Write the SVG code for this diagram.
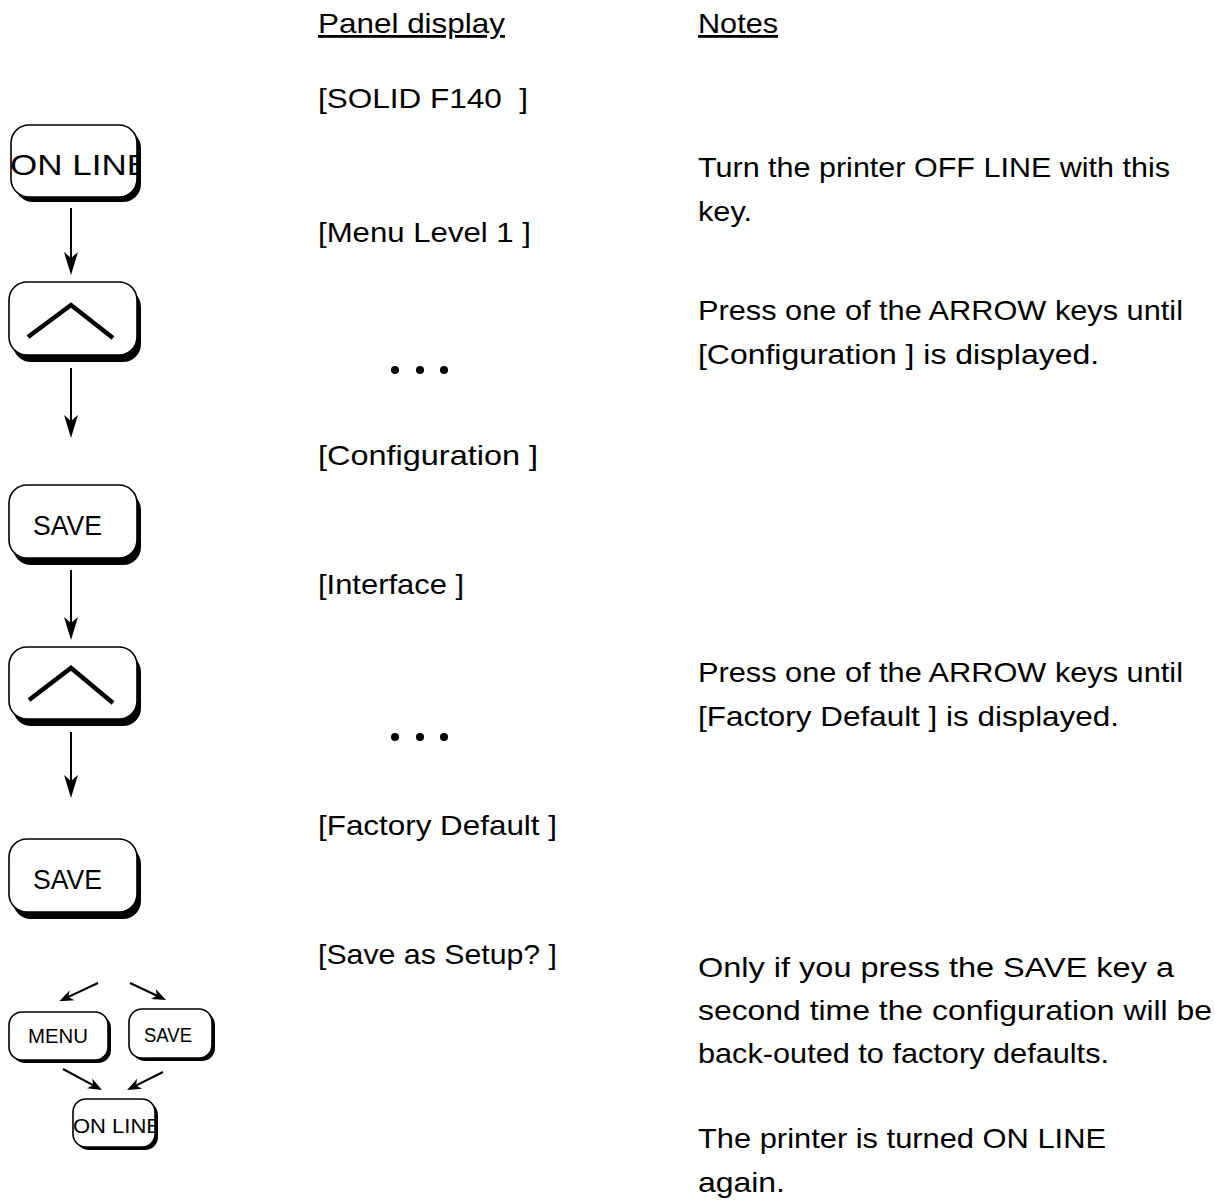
<svg xmlns="http://www.w3.org/2000/svg" width="1215" height="1200" viewBox="0 0 1215 1200">
<defs>
<style>
text{font-family:"Liberation Sans",Arial,sans-serif;fill:#000}
.t{font-size:28px}
.k{font-size:30px}
.ks{font-size:20px}
.bx{fill:#fff;stroke:#000;stroke-width:1.6}
.sh{fill:#000}
.chev{fill:none;stroke:#000;stroke-width:4.5}
.ln{stroke:#000;stroke-width:2;fill:none}
.big{marker-end:url(#ah)}
.small{marker-end:url(#ahs)}
</style>
<marker id="ah" markerUnits="userSpaceOnUse" markerWidth="26" markerHeight="18" viewBox="-14 -9 26 18" refX="0" refY="0" orient="auto"><path d="M10,0 L-13,-7 L-7,0 L-13,7 Z" fill="#000"/></marker>
<marker id="ahs" markerUnits="userSpaceOnUse" markerWidth="18" markerHeight="14" viewBox="-9 -7 18 14" refX="0" refY="0" orient="auto"><path d="M7,0 L-7,-5.5 L-3,0 L-7,5.5 Z" fill="#000"/></marker>
<clipPath id="c1"><rect x="11" y="125" width="126" height="72" rx="18"/></clipPath>
<clipPath id="c7"><rect x="73" y="1099" width="82" height="48" rx="13"/></clipPath>
</defs>

<g id="headers">
<text class="t" x="318" y="33" textLength="187" lengthAdjust="spacingAndGlyphs" text-decoration="underline">Panel display</text>
<text class="t" x="698" y="33" textLength="80" lengthAdjust="spacingAndGlyphs" text-decoration="underline">Notes</text>
</g>

<g id="panel">
<text class="t" x="318" y="108" textLength="210" lengthAdjust="spacingAndGlyphs" style="white-space:pre">[SOLID F140  ]</text>
<text class="t" x="318" y="242" textLength="213" lengthAdjust="spacingAndGlyphs">[Menu Level 1 ]</text>
<g id="dots1"><circle cx="395" cy="370" r="4"/><circle cx="420" cy="370" r="4"/><circle cx="444" cy="370" r="4"/></g>
<text class="t" x="318" y="465" textLength="220" lengthAdjust="spacingAndGlyphs">[Configuration ]</text>
<text class="t" x="318" y="594" textLength="146" lengthAdjust="spacingAndGlyphs">[Interface ]</text>
<g id="dots2"><circle cx="395" cy="737" r="4"/><circle cx="420" cy="737" r="4"/><circle cx="444" cy="737" r="4"/></g>
<text class="t" x="318" y="835" textLength="239" lengthAdjust="spacingAndGlyphs">[Factory Default ]</text>
<text class="t" x="318" y="964" textLength="239" lengthAdjust="spacingAndGlyphs">[Save as Setup? ]</text>
</g>

<g id="notes">
<text class="t" x="698" y="177" textLength="472" lengthAdjust="spacingAndGlyphs">Turn the printer OFF LINE with this</text>
<text class="t" x="698" y="221" textLength="54" lengthAdjust="spacingAndGlyphs">key.</text>
<text class="t" x="698" y="320" textLength="485" lengthAdjust="spacingAndGlyphs">Press one of the ARROW keys until</text>
<text class="t" x="698" y="364" textLength="401" lengthAdjust="spacingAndGlyphs">[Configuration ] is displayed.</text>
<text class="t" x="698" y="682" textLength="485" lengthAdjust="spacingAndGlyphs">Press one of the ARROW keys until</text>
<text class="t" x="698" y="726" textLength="421" lengthAdjust="spacingAndGlyphs">[Factory Default ] is displayed.</text>
<text class="t" x="698" y="977" textLength="476" lengthAdjust="spacingAndGlyphs">Only if you press the SAVE key a</text>
<text class="t" x="698" y="1020" textLength="514" lengthAdjust="spacingAndGlyphs">second time the configuration will be</text>
<text class="t" x="698" y="1063" textLength="411" lengthAdjust="spacingAndGlyphs">back-outed to factory defaults.</text>
<text class="t" x="698" y="1148" textLength="408" lengthAdjust="spacingAndGlyphs">The printer is turned ON LINE</text>
<text class="t" x="698" y="1192" textLength="87" lengthAdjust="spacingAndGlyphs">again.</text>
</g>

<g id="key-online">
<rect class="sh" x="15" y="130" width="126" height="72" rx="18"/>
<rect class="bx" x="11" y="125" width="126" height="72" rx="18"/>
<text class="k" x="10" y="175" textLength="140" lengthAdjust="spacingAndGlyphs" clip-path="url(#c1)">ON LINE</text>
</g>
<g id="key-up1">
<rect class="sh" x="13" y="289" width="128" height="73" rx="18"/>
<rect class="bx" x="9" y="282" width="128" height="73" rx="18"/>
<polyline class="chev" points="28,337 71,305 113,338"/>
</g>
<g id="key-save1">
<rect class="sh" x="13" y="492" width="128" height="73" rx="18"/>
<rect class="bx" x="9" y="485" width="128" height="73" rx="18"/>
<text class="t" x="33" y="535" textLength="69" lengthAdjust="spacingAndGlyphs">SAVE</text>
</g>
<g id="key-up2">
<rect class="sh" x="13" y="654" width="128" height="72" rx="18"/>
<rect class="bx" x="9" y="647" width="128" height="72" rx="18"/>
<polyline class="chev" points="29,700 71,668 113,703"/>
</g>
<g id="key-save2">
<rect class="sh" x="13" y="846" width="128" height="73" rx="18"/>
<rect class="bx" x="9" y="839" width="128" height="73" rx="18"/>
<text class="t" x="33" y="889" textLength="69" lengthAdjust="spacingAndGlyphs">SAVE</text>
</g>
<g id="key-menu">
<rect class="sh" x="12" y="1015" width="99" height="48" rx="13"/>
<rect class="bx" x="9" y="1012" width="99" height="48" rx="13"/>
<text class="ks" x="28" y="1043" textLength="60" lengthAdjust="spacingAndGlyphs">MENU</text>
</g>
<g id="key-save3">
<rect class="sh" x="132" y="1012" width="83" height="49" rx="13"/>
<rect class="bx" x="129" y="1009" width="83" height="49" rx="13"/>
<text class="ks" x="144" y="1042" textLength="48" lengthAdjust="spacingAndGlyphs">SAVE</text>
</g>
<g id="key-online2">
<rect class="sh" x="76" y="1102" width="82" height="48" rx="13"/>
<rect class="bx" x="73" y="1099" width="82" height="48" rx="13"/>
<text class="ks" x="73" y="1133" textLength="88" lengthAdjust="spacingAndGlyphs" clip-path="url(#c7)">ON LINE</text>
</g>

<g id="connectors">
<line class="ln big" x1="71" y1="208" x2="71" y2="265"/>
<line class="ln big" x1="71" y1="368" x2="71" y2="428"/>
<line class="ln big" x1="71" y1="570" x2="71" y2="630"/>
<line class="ln big" x1="71" y1="732" x2="71" y2="788"/>
<line class="ln small" x1="98" y1="983" x2="65.7" y2="998.2"/>
<line class="ln small" x1="130" y1="983" x2="159.7" y2="997"/>
<line class="ln small" x1="63" y1="1069" x2="95.8" y2="1086.7"/>
<line class="ln small" x1="163" y1="1072" x2="133.3" y2="1086.9"/>
</g>
</svg>
